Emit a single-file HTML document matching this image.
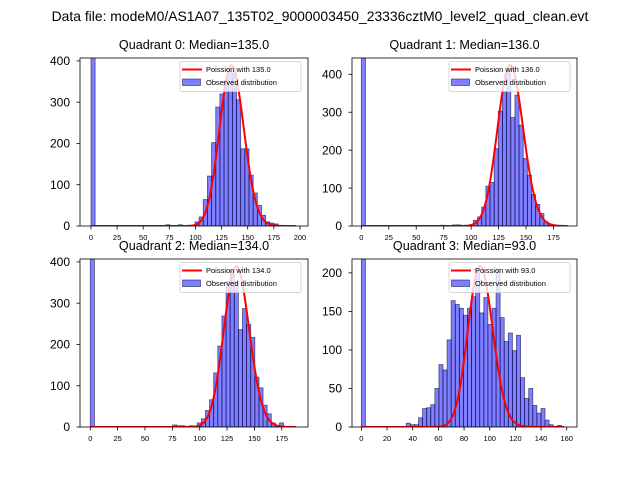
<!DOCTYPE html>
<html><head><meta charset="utf-8"><style>
body{margin:0;background:#fff;}
svg{display:block;font-family:"Liberation Sans","DejaVu Sans",sans-serif;}
</style></head><body>
<svg id="c" width="640" height="480" viewBox="0 0 640 480">
<text x="320" y="21" font-size="13.9" text-anchor="middle">Data file: modeM0/AS1A07_135T02_9000003450_23336cztM0_level2_quad_clean.evt</text>
</svg>
<script>
// ---- data ----
const q0Counts=[2000,0,0,0,0,0,0,0,0,0, 0,0,0,0,0,0,0,0,3,0, 0,3,0,0,0,10,22,64,121,202, 288,320,353,377,369,306,187,187,123,80, 50,26,10,7,5,0,0,0,0,0];
const q1Counts=[2000,0,0,0,0,0,0,0,0,0, 0,0,0,0,0,0,0,0,0,2, 0,0,3,3,0,0,0,15,24,50, 105,115,204,303,354,415,286,345,266,178, 134,83,57,33,11,5,3,0,0,0];
const q2Counts=[2000,0,0,0,0,0,0,0,0,0, 0,0,0,0,0,0,0,0,0,0, 5,3,3,0,3,0,10,20,40,66, 131,196,269,352,380,352,236,287,249,217, 121,95,53,32,10,4,10,0,0,0];
const q3Counts=[2000,0,0,0,0,0,0,0,0,0, 0,5,3,3,12,24,25,29,50,81, 74,113,164,159,154,145,154,169,205,148, 168,133,154,205,142,111,122,99,119,64, 37,50,28,18,24,9,3,0,2,0];
const binWidths=[3.98,3.78,3.76,3.18];
const poissonMeans=[135.0,136.0,134.0,93.0];
const poissonPeaks=[389,425,389,209];
const lineMax=[196,188,188,158];
const medians=["135.0","136.0","134.0","93.0"];
const q0XTicks=[0,25,50,75,100,125,150,175,200];
const q1XTicks=[0,25,50,75,100,125,150,175];
const q2XTicks=[0,25,50,75,100,125,150,175];
const q3XTicks=[0,20,40,60,80,100,120,140,160];
const q0YTicks=[0,100,200,300,400];
const q1YTicks=[0,100,200,300,400];
const q2YTicks=[0,100,200,300,400];
const q3YTicks=[0,50,100,150,200];
// ---- layout ----
const panels=[
 {x:80,y:58,w:228,h:168,xmin:-10.5,xmax:207.7,ymax:407,counts:q0Counts,xt:q0XTicks,yt:q0YTicks},
 {x:352,y:58,w:225,h:168,xmin:-8.5,xmax:196.4,ymax:443,counts:q1Counts,xt:q1XTicks,yt:q1YTicks},
 {x:80,y:259,w:228,h:168,xmin:-9.4,xmax:199,ymax:407,counts:q2Counts,xt:q2XTicks,yt:q2YTicks},
 {x:352,y:259,w:225,h:168,xmin:-7.3,xmax:168,ymax:218,counts:q3Counts,xt:q3XTicks,yt:q3YTicks}
];
const NS="http://www.w3.org/2000/svg";
const svg=document.getElementById('c');
function mk(tag,attrs,parent){const e=document.createElementNS(NS,tag);for(const k in attrs)e.setAttribute(k,attrs[k]);(parent||svg).appendChild(e);return e;}
function logFact(k){let s=0;for(let i=2;i<=k;i++)s+=Math.log(i);return s;}
panels.forEach((p,i)=>{
 const sx=v=>p.x+(v-p.xmin)/(p.xmax-p.xmin)*p.w;
 const sy=v=>p.y+p.h-v/p.ymax*p.h;
 const g=mk('g',{});
 
 
 const cp=mk('clipPath',{id:'cp'+i},g);
 mk('rect',{x:p.x,y:p.y,width:p.w,height:p.h},cp);
 const plot=mk('g',{'clip-path':'url(#cp'+i+')'},g);
 const bw=binWidths[i];
 p.counts.forEach((c,k)=>{
  if(c<=0)return;
  const r=mk('rect',{x:sx(k*bw),y:sy(c),width:sx((k+1)*bw)-sx(k*bw),height:sy(0)-sy(c),fill:'rgba(0,0,255,0.5)',stroke:'rgba(0,0,50,0.6)','stroke-width':0.8},plot);
  
  
 });
 const lam=poissonMeans[i];const pts=[];let mx=0;const vals=[];
 for(let k=0;k<=lineMax[i];k++){const v=Math.exp(k*Math.log(lam)-lam-logFact(k));vals.push(v);if(v>mx)mx=v;}
 vals.forEach((v,k)=>pts.push(sx(k).toFixed(2)+','+sy(v/mx*poissonPeaks[i]).toFixed(2)));
 const pl=mk('polyline',{points:pts.join(' '),fill:'none',stroke:'red','stroke-width':2,'stroke-linejoin':'round'},plot);
 
 
 const fr=mk('rect',{x:p.x,y:p.y,width:p.w,height:p.h,fill:'none',stroke:'#000','stroke-width':0.8},g);
 
 
 p.xt.forEach(t=>{
  const X=sx(t);
  mk('line',{x1:X,x2:X,y1:p.y+p.h,y2:p.y+p.h+3.5,stroke:'#000','stroke-width':0.8},g);
  const tx=mk('text',{x:X,y:p.y+p.h+14,'font-size':7.5,'text-anchor':'middle'},g);
  tx.textContent=t;
  
  
 });
 p.yt.forEach(t=>{
  const Y=sy(t);
  mk('line',{x1:p.x-3.5,x2:p.x,y1:Y,y2:Y,stroke:'#000','stroke-width':0.8},g);
  const tx=mk('text',{x:p.x-10,y:Y+4.2,'font-size':12,'text-anchor':'end'},g);
  tx.textContent=t;
  
  
 });
 const ti=mk('text',{x:p.x+p.w/2,y:p.y-9,'font-size':12.6,'text-anchor':'middle'},g);
 ti.textContent='Quadrant '+i+': Median='+medians[i];
 
 
 const lx=p.x+p.w-128,ly=p.y+3.5;
 const lg=mk('g',{},g);
 
 
 mk('rect',{x:lx,y:ly,width:121,height:30,rx:2,fill:'rgba(255,255,255,0.8)',stroke:'#ccc','stroke-width':0.8},lg);
 mk('line',{x1:lx+2,x2:lx+22,y1:ly+8,y2:ly+8,stroke:'red','stroke-width':2},lg);
 const t1=mk('text',{x:lx+26,y:ly+10.6,'font-size':7.5},lg);
 t1.textContent='Poission with '+poissonMeans[i].toFixed(1);
 
 
 mk('rect',{x:lx+2.5,y:ly+17.5,width:18,height:6.5,fill:'rgba(0,0,255,0.5)',stroke:'rgba(0,0,50,0.6)','stroke-width':0.8},lg);
 const t2=mk('text',{x:lx+26,y:ly+23.6,'font-size':7.5},lg);
 t2.textContent='Observed distribution';
 
 
});
</script>
</body></html>
